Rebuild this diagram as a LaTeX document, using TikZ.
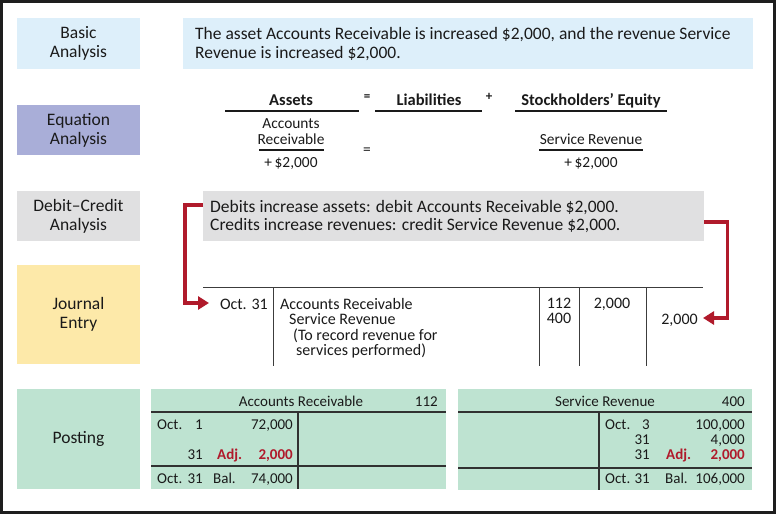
\documentclass[tikz,border=0pt]{standalone}
\usepackage{fontspec}
\setmainfont{Carlito}
\usetikzlibrary{arrows.meta}
\definecolor{framec}{HTML}{1E1E1E}
\definecolor{bluebg}{HTML}{DDEFFA}
\definecolor{purplebg}{HTML}{A9AED8}
\definecolor{graybg}{HTML}{E0E0E1}
\definecolor{yellowbg}{HTML}{FDE9A9}
\definecolor{greenbg}{HTML}{BEE3D1}
\definecolor{arrowred}{HTML}{B01A2B}
\definecolor{ink}{HTML}{1A1A1A}
\newcommand\flab{\fontsize{17.5}{19}\selectfont}
\newcommand\fbig{\fontsize{17.5}{19}\selectfont}
\newcommand\feq{\fontsize{15.4}{17}\selectfont}
\newcommand\feqb{\fontsize{16.5}{17}\selectfont\bfseries}
\newcommand\fjour{\fontsize{16}{16}\selectfont}
\newcommand\fpost{\fontsize{15}{16}\selectfont}
\begin{document}
\begin{tikzpicture}[x=1pt,y=-1pt,
  lab/.style={inner sep=0pt, minimum width=123pt, minimum height=51pt, align=center, font=\flab, text=ink},
  panel/.style={inner sep=0pt, anchor=north west, draw=none},
  big/.style={inner sep=0pt, font=\fbig, text=ink, anchor=base west},
  eqt/.style={inner sep=0pt, font=\feq, text=ink, anchor=base},
  eqh/.style={inner sep=0pt, font=\feqb, text=ink, anchor=base},
  rule/.style={ink, line width=1.1pt},
  jt/.style={inner sep=0pt, font=\fjour, text=ink, anchor=base west},
  jr/.style={inner sep=0pt, font=\fjour, text=ink, anchor=base east},
  jc/.style={inner sep=0pt, font=\fjour, text=ink, anchor=base},
  jline/.style={draw=ink!85, line width=0.9pt},
  pl/.style={inner sep=0pt, font=\fpost, text=ink, anchor=base west},
  pr/.style={inner sep=0pt, font=\fpost, text=ink, anchor=base east},
  pc/.style={inner sep=0pt, font=\fpost, text=ink, anchor=base},
  adjl/.style={inner sep=0pt, font=\fpost\bfseries, text=arrowred, anchor=base west},
  adjr/.style={inner sep=0pt, font=\fpost\bfseries, text=arrowred, anchor=base east},
  tline/.style={draw=ink!90, line width=1.1pt},
  redarr/.style={draw=arrowred, line width=3.5pt, line join=miter, -{Triangle[length=11pt,width=13pt]}}
]
\useasboundingbox (0,0) rectangle (777,514);
\fill[white] (0,0) rectangle (777,514);
\draw[framec, line width=3pt] (1.5,1.5) rectangle (774.5,512.5);

% left labels
\node[lab, fill=bluebg] (basic) at (78.5,43.5) {Basic\\Analysis};
\node[lab, fill=purplebg, minimum height=50pt] (equation) at (78.5,130) {Equation\\Analysis};
\node[lab, fill=graybg, minimum height=50pt] (dclab) at (78.5,216) {Debit--Credit\\Analysis};
\node[lab, fill=yellowbg, minimum height=99pt] (journal) at (78.5,314.5) {Journal\\Entry};
\node[lab, fill=greenbg, minimum height=100pt] (posting) at (78.5,439) {Posting};

% basic analysis
\node[panel, fill=bluebg, minimum width=570pt, minimum height=51pt] (basicbox) at (183,18) {};
\node[big] (b1) at (195,39) {The asset Accounts Receivable is increased \$2,000, and the revenue Service};
\node[big] (b2) at (195,58) {Revenue is increased \$2,000.};

% equation analysis
\node[eqh] (assets) at (291,105.5) {Assets};
\node[eqh] (liab) at (429,105.5) {Liabilities};
\node[eqh] (equity) at (591,105.5) {Stockholders’ Equity};
\node[inner sep=0pt, font=\fontsize{13}{13}\selectfont\bfseries, text=ink] (eqs1) at (367,98) {=};
\node[inner sep=0pt, font=\fontsize{13}{13}\selectfont\bfseries, text=ink] (plus1) at (489,97) {+};
\draw[rule] (225,111) -- (359,111);
\draw[rule] (375,111) -- (482,111);
\draw[rule] (515,111) -- (667,111);
\node[eqt] (ar1) at (291,128) {Accounts};
\node[eqt] (ar2) at (291,144) {Receivable};
\draw[rule] (259,150) -- (324,150);
\node[eqt] (ar3) at (291,167) {+\,\$2,000};
\node[inner sep=0pt, font=\feq, text=ink] (eqs2) at (367,151) {=};
\node[eqt] (sr1) at (591,144) {Service Revenue};
\draw[rule] (539,150) -- (643,150);
\node[eqt] (sr2) at (591,167) {+\,\$2,000};

% debit credit analysis
\node[panel, fill=graybg, minimum width=501pt, minimum height=50pt] (dcbox) at (203,191) {};
\node[big] (d1) at (210,212) {Debits increase assets: debit Accounts Receivable \$2,000.};
\node[big] (d2) at (210,230) {Credits increase revenues: credit Service Revenue \$2,000.};

% journal entry
\draw[jline] (203,287) -- (703,287);
\draw[jline] (273,287) -- (273,366);
\draw[jline] (539,287) -- (539,366);
\draw[jline] (579,287) -- (579,366);
\draw[jline] (646,287) -- (646,366);
\node[jr] (jdate) at (268,309) {Oct. 31};
\node[jt] (j1) at (280,309) {Accounts Receivable};
\node[jt] (j2) at (289,324) {Service Revenue};
\node[jt] (j3) at (293,340) {(To record revenue for};
\node[jt] (j4) at (296,355) {services performed)};
\node[jc] (ref1) at (559,308) {112};
\node[jc] (ref2) at (559,323) {400};
\node[jc] (dr) at (612,308) {2,000};
\node[jr] (cr) at (698,324) {2,000};
\coordinate (jin) at (209,303);
\coordinate (jout) at (703,318);
\draw[redarr] ([yshift=-14pt]dcbox.north west) -- ++(-18,0) |- (jin);
\draw[redarr] ([yshift=-31pt]dcbox.north east) -- ++(23,0) |- (jout);

% posting: accounts receivable
\node[panel, fill=greenbg, minimum width=295pt, minimum height=100pt] (ta1) at (151,389) {};
\draw[tline] (151,412) -- (446,412);
\draw[tline] (151,466) -- (446,466);
\draw[tline] (298,412) -- (298,489);
\node[pc] (t1title) at (301,406) {Accounts Receivable};
\node[pr] (t1no) at (438,406) {112};
\node[pl] (t1a) at (157,429) {Oct.};
\node[pr] (t1b) at (203,429) {1};
\node[pr] (t1c) at (293,429) {72,000};
\node[pr] (t1d) at (203,459) {31};
\node[adjl] (t1e) at (217,459) {Adj.};
\node[adjr] (t1f) at (293,459) {2,000};
\node[pl] (t1g) at (157,483) {Oct.};
\node[pr] (t1h) at (203,483) {31};
\node[pl] (t1i) at (213,483) {Bal.};
\node[pr] (t1j) at (293,483) {74,000};

% posting: service revenue
\node[panel, fill=greenbg, minimum width=294pt, minimum height=101pt] (ta2) at (458,389) {};
\draw[tline] (458,412) -- (752,412);
\draw[tline] (458,468) -- (752,468);
\draw[tline] (599,412) -- (599,490);
\node[pc] (t2title) at (605,406) {Service Revenue};
\node[pr] (t2no) at (745,406) {400};
\node[pl] (t2a) at (605,429) {Oct.};
\node[pr] (t2b) at (650,429) {3};
\node[pr] (t2c) at (745,429) {100,000};
\node[pr] (t2d) at (650,444) {31};
\node[pr] (t2e) at (745,444) {4,000};
\node[pr] (t2f) at (650,459) {31};
\node[adjl] (t2g) at (666,459) {Adj.};
\node[adjr] (t2h) at (745,459) {2,000};
\node[pl] (t2i) at (605,483) {Oct.};
\node[pr] (t2j) at (650,483) {31};
\node[pl] (t2k) at (665,483) {Bal.};
\node[pr] (t2l) at (745,483) {106,000};
\end{tikzpicture}
\end{document}
